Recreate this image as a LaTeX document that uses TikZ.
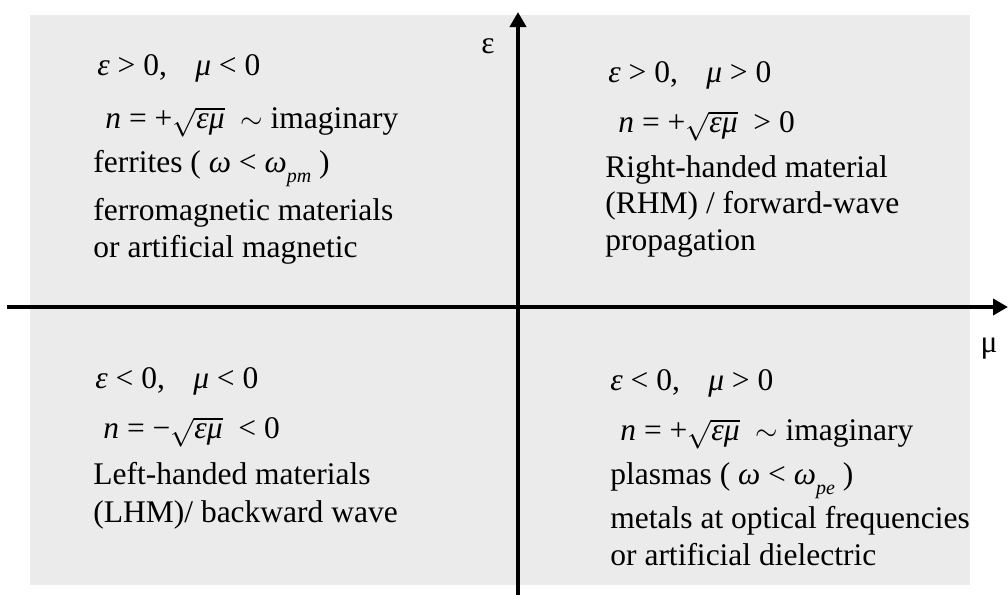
\documentclass[tikz,border=0pt]{standalone}
\usepackage{fontspec}
\setmainfont{Liberation Serif}
\usetikzlibrary{arrows.meta}
\definecolor{quadgray}{HTML}{EBEBEB}
\newcommand{\qfont}{\fontsize{15.75}{18}\selectfont}
\newcommand{\ieps}{{\itshape ε}}
\newcommand{\imu}{{\itshape μ}}
\newcommand{\iroot}{$\sqrt{\mbox{\itshape εμ}}$}
\newcommand{\iomega}[1]{{\itshape ω}\raisebox{-5pt}{\fontsize{10}{10}\selectfont\itshape #1}}

\begin{document}
\begin{tikzpicture}[
  x=0.5pt, y=-0.5pt,
  axis/.style={line width=2pt, -{Triangle[length=7.5pt,width=8pt]}},
  qtext/.style={anchor=base west, inner sep=0pt, font=\qfont},
  alabel/.style={anchor=base, inner sep=0pt, font=\qfont}
]
  \useasboundingbox (0,0) rectangle (1008,595);
  \fill[quadgray] (30,15) rectangle (970,585);

  \coordinate (ebot) at (518,595);
  \coordinate (etop) at (518,12);
  \coordinate (mleft) at (7,307);
  \coordinate (mright) at (1008,307);
  \draw[axis] (ebot) -- (etop);
  \draw[axis] (mleft) -- (mright);

  \node[alabel] (elabel) at (488,53) {ε};
  \node[alabel] (mlabel) at (989,352) {μ};

  \node[qtext] (nwa) at (97,75) {\ieps{} > 0,\hspace{0.9em}\imu{} < 0};
  \node[qtext] (nwb) at (105,128) {{\itshape n} = +\iroot\ \ $\sim$ imaginary};
  \node[qtext] (nwc) at (93,172) {ferrites ( \iomega{} < \iomega{pm} )};
  \node[qtext] (nwd) at (93,220) {ferromagnetic materials};
  \node[qtext] (nwe) at (93,257) {or artificial magnetic};

  \node[qtext] (nea) at (608,82) {\ieps{} > 0,\hspace{0.9em}\imu{} > 0};
  \node[qtext] (neb) at (618,132) {{\itshape n} = +\iroot\ \ > 0};
  \node[qtext] (nec) at (605,177) {Right-handed material};
  \node[qtext] (ned) at (605,213) {(RHM) / forward-wave};
  \node[qtext] (nee) at (605,250) {propagation};

  \node[qtext] (swa) at (95,388) {\ieps{} < 0,\hspace{0.9em}\imu{} < 0};
  \node[qtext] (swb) at (103,438) {{\itshape n} = −\iroot\ \ < 0};
  \node[qtext] (swc) at (93,484) {Left-handed materials};
  \node[qtext] (swd) at (93,522) {(LHM)/ backward wave};

  \node[qtext] (sea) at (610,390) {\ieps{} < 0,\hspace{0.9em}\imu{} > 0};
  \node[qtext] (seb) at (620,440) {{\itshape n} = +\iroot\ \ $\sim$ imaginary};
  \node[qtext] (sec) at (610,484) {plasmas ( \iomega{} < \iomega{pe} )};
  \node[qtext] (sed) at (610,528) {metals at optical frequencies};
  \node[qtext] (see) at (610,565) {or artificial dielectric};
\end{tikzpicture}
\end{document}
